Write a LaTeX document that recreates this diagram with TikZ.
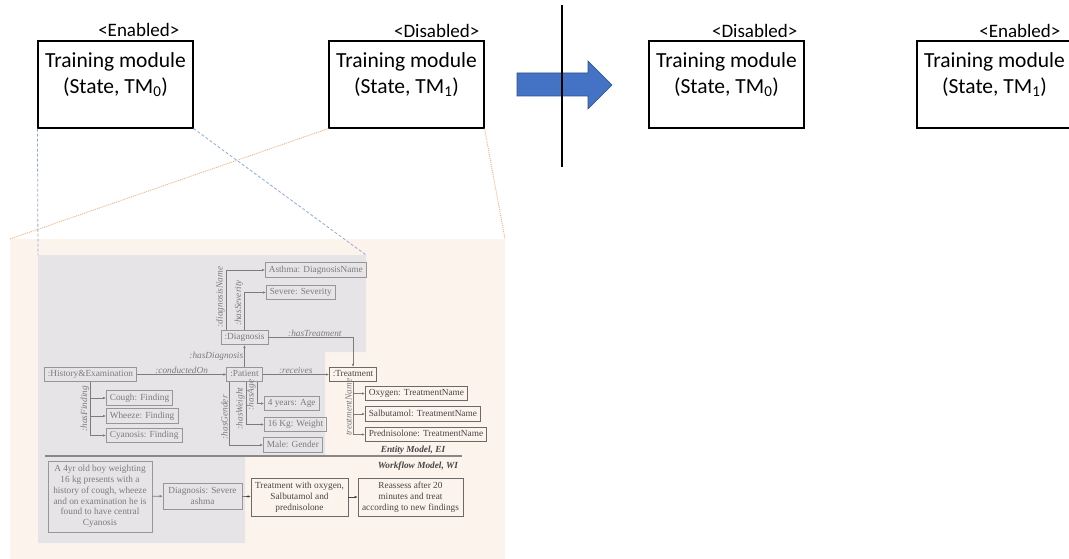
\documentclass[tikz,border=0pt]{standalone}
\usepackage{fontspec}
\setmainfont{Carlito}
\newfontfamily\paperfont{Liberation Serif}
\usetikzlibrary{arrows.meta}

\definecolor{peach}{HTML}{FCF3EC}
\definecolor{panelgrey}{HTML}{E6E4E6}
\definecolor{arrowblue}{HTML}{4472C4}
\definecolor{zoomblue}{HTML}{8FAADC}
\definecolor{zoomorange}{HTML}{F4B183}
\definecolor{fadetext}{HTML}{7C7C7C}
\definecolor{darktext}{HTML}{454545}

\begin{document}
\begin{tikzpicture}[x=1pt, y=-1pt,
	tmbox/.style={draw, line width=1.1pt, minimum width=155pt, minimum height=87pt, inner sep=0pt},
	tmtext/.style={anchor=north, align=center, inner sep=0pt, font=\fontsize{21.5}{26}\selectfont},
	statelbl/.style={anchor=base east, inner sep=0pt, font=\fontsize{19}{22}\selectfont},
	ebox/.style={draw=fadetext!80, text=fadetext, line width=0.6pt, inner xsep=3.5pt, inner ysep=3pt,
		text height=6.5pt, text depth=2pt, font=\paperfont\fontsize{9.3}{10.8}\selectfont},
	dbox/.style={ebox, draw=darktext!80, text=darktext},
	wbox/.style={draw=fadetext!80, text=fadetext, line width=0.6pt, align=center, inner sep=2pt,
		font=\paperfont\fontsize{9.3}{10.8}\selectfont},
	dwbox/.style={wbox, draw=darktext!80, text=darktext},
	rel/.style={draw=fadetext, line width=0.6pt, -{Latex[length=3pt,width=2.6pt]}},
	rlab/.style={text=fadetext, inner sep=1pt, font=\paperfont\itshape\fontsize{9.3}{10.8}\selectfont},
	modeltitle/.style={text=darktext, inner sep=0pt, font=\paperfont\bfseries\itshape\fontsize{9.3}{10.8}\selectfont},
	zoomlineA/.style={draw=zoomblue, line width=0.8pt, dash pattern=on 3pt off 2pt},
	zoomlineB/.style={draw=zoomorange, line width=0.9pt, dash pattern=on 1pt off 1pt}
]
	\useasboundingbox (0,0) rectangle (1069,559);

	% Training modules before the switch
	\node[tmbox] (tm0a) at (115.5,84.5) {};
	\node[tmtext] (tm0atext) at ([yshift=-12pt]tm0a.north) {Training module\\(State, TM\textsubscript{0})};
	\node[statelbl] (st0a) at ([xshift=-14pt, yshift=4pt]tm0a.north east) {<Enabled>};

	\node[tmbox] (tm1a) at (406.5,84.5) {};
	\node[tmtext] (tm1atext) at ([yshift=-12pt]tm1a.north) {Training module\\(State, TM\textsubscript{1})};
	\node[statelbl] (st1a) at ([xshift=-5pt, yshift=3pt]tm1a.north east) {<Disabled>};

	% Switch arrow and divider
	\fill[arrowblue, draw=arrowblue!70!black, line width=0.6pt]
		(517,73) -- (588,73) -- (588,61) -- (612,85) -- (588,109) -- (588,96) -- (517,96) -- cycle;
	\draw[line width=1.2pt] (562,5) -- (562,167);

	% Training modules after the switch
	\node[tmbox] (tm0b) at (726.5,84.5) {};
	\node[tmtext] (tm0btext) at ([yshift=-12pt]tm0b.north) {Training module\\(State, TM\textsubscript{0})};
	\node[statelbl] (st0b) at ([xshift=-7pt, yshift=3pt]tm0b.north east) {<Disabled>};

	\node[tmbox] (tm1b) at (994.5,84.5) {};
	\node[tmtext] (tm1btext) at ([yshift=-12pt]tm1b.north) {Training module\\(State, TM\textsubscript{1})};
	\node[statelbl] (st1b) at ([xshift=-12pt, yshift=3pt]tm1b.north east) {<Enabled>};

	% Zoomed-in model: backgrounds
	\fill[peach] (10,239) rectangle (505,559);
	\fill[panelgrey] (38,255) -- (366,255) -- (366,352) -- (325,352) -- (325,455)
		-- (245,455) -- (245,543) -- (38,543) -- cycle;
	\coordinate (pnw) at (10,239);
	\coordinate (pne) at (505,239);
	\coordinate (gnw) at (38,255);
	\coordinate (gne) at (366,255);

	% Zoom lines
	\draw[zoomlineA] (tm0a.south west) -- (gnw);
	\draw[zoomlineA] (tm0a.south east) -- (gne);
	\draw[zoomlineB] (tm1a.south west) -- (pnw);
	\draw[zoomlineB] (tm1a.south east) -- (pne);

	% Entity model
	\node[ebox, anchor=west] (asthma) at (265,270) {Asthma: DiagnosisName};
	\node[ebox, anchor=west] (severe) at (266,292.5) {Severe: Severity};
	\node[ebox] (diag) at (244.5,337.5) {:Diagnosis};
	\node[ebox, anchor=west] (hist) at (44,374.5) {:History\&Examination};
	\node[ebox] (patient) at (244.5,374.5) {:Patient};
	\node[dbox, anchor=west] (treat) at (329,374.5) {:Treatment};
	\node[ebox, anchor=west] (cough) at (106,398) {Cough: Finding};
	\node[ebox, anchor=west] (wheeze) at (106,416) {Wheeze: Finding};
	\node[ebox, anchor=west] (cyan) at (106,435.5) {Cyanosis: Finding};
	\node[ebox, anchor=west] (age) at (264,403.5) {4 years: Age};
	\node[ebox, anchor=west] (weight) at (264,424.5) {16 Kg: Weight};
	\node[ebox, anchor=west] (gender) at (263,445) {Male: Gender};
	\node[dbox, anchor=west] (oxy) at (365,393.5) {Oxygen: TreatmentName};
	\node[dbox, anchor=west] (salb) at (365,414) {Salbutamol: TreatmentName};
	\node[dbox, anchor=west] (pred) at (365,434.5) {Prednisolone: TreatmentName};

	\draw[rel] ([xshift=-18.5pt]diag.north) |- node[rlab, pos=0.275, anchor=south, rotate=90] {:diagnosisName} (asthma.west);
	\draw[rel] (diag.north) |- node[rlab, pos=0.36, anchor=south, rotate=90] {:hasSeverity} (severe.west);
	\draw[rel] (diag.east) -| node[rlab, pos=0.275, above] {:hasTreatment} (treat.north);
	\draw[rel] (patient.north) -- node[rlab, left] {:hasDiagnosis} (diag.south);
	\draw[rel] (hist.east) -- node[rlab, above] {:conductedOn} (patient.west);
	\draw[rel] (patient.east) -- node[rlab, above] {:receives} (treat.west);

	\draw[rel] (hist.south) |- (cough.west);
	\draw[rel] (hist.south) |- (wheeze.west);
	\draw[rel] (hist.south) |- node[rlab, pos=0.25, anchor=south, rotate=90] {:hasFinding} (cyan.west);

	\draw[rel] ([xshift=12.5pt]patient.south) |- node[rlab, pos=0.3, anchor=south, rotate=90] {:hasAge} (age.west);
	\draw[rel] ([xshift=1.5pt]patient.south) |- node[rlab, pos=0.31, anchor=south, rotate=90] {:hasWeight} (weight.west);
	\draw[rel] ([xshift=-15.5pt]patient.south) |- node[rlab, pos=0.28, anchor=south, rotate=90] {:hasGender} (gender.west);

	\draw[rel] (treat.south) |- (oxy.west);
	\draw[rel] (treat.south) |- (salb.west);
	\draw[rel] (treat.south) |- node[rlab, pos=0.24, anchor=south, rotate=90] {treatmentName} (pred.west);

	% Separator
	\node[modeltitle, anchor=base] (entitytitle) at (413,452.5) {Entity Model, EI};
	\draw[draw=fadetext!90!peach, line width=1.8pt] (45,456) -- (462,456);
	\node[modeltitle, anchor=base] (flowtitle) at (418,468.5) {Workflow Model, WI};

	% Workflow model
	\node[wbox, minimum width=104pt, minimum height=71pt] (story) at (100,496.5)
		{A 4yr old boy weighting\\16 kg presents with a\\history of cough, wheeze\\and on examination he is\\found to have central\\Cyanosis};
	\node[wbox, minimum width=79pt, minimum height=26pt] (wdiag) at (202.5,496) {Diagnosis: Severe\\ashma};
	\node[dwbox, minimum width=97pt, minimum height=38pt] (wtreat) at (299.5,497) {Treatment with oxygen,\\Salbutamol and\\prednisolone};
	\node[dwbox, minimum width=105pt, minimum height=38pt] (wreas) at (410.5,497) {Reassess after 20\\minutes and treat\\according to new findings};

	\draw[rel] (story) -- (wdiag);
	\draw[rel, draw=darktext] (wdiag) -- (wtreat);
	\draw[rel, draw=darktext] (wtreat) -- (wreas);
\end{tikzpicture}
\end{document}
